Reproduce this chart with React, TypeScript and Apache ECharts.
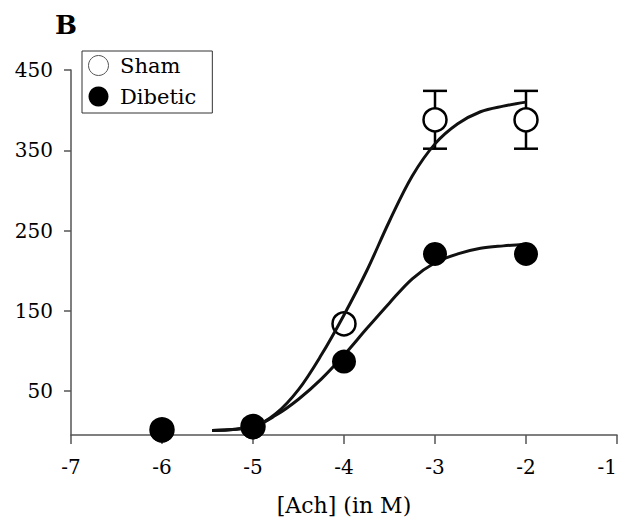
import React, { useEffect, useRef } from "react";
import * as echarts from "echarts";

const xTicks = [-7, -6, -5, -4, -3, -2, -1];
const yTickValues = [50, 150, 250, 350, 450];

const doses = [-6, -5, -4, -3, -2];
const shamMean = [2, 6, 134, 388, 388];
const shamErr = [0, 0, 0, 36, 36];
const dibMean = [1, 5, 87, 221, 221];

const curveX = [-5.45, -5.0, -4.75, -4.5, -4.25, -4.0, -3.75, -3.5, -3.25, -3.0, -2.75, -2.5, -2.25, -2.0];
const shamCurve = [1, 6, 22, 52, 95, 145, 200, 262, 318, 358, 383, 398, 405, 410];
const dibCurve = [1, 6, 20, 40, 65, 95, 128, 160, 190, 210, 221, 228, 231, 233];

const FONT = '"DejaVu Serif", "Liberation Serif", serif';

export default function App() {
  const ref = useRef<HTMLDivElement>(null);
  useEffect(() => {
    if (!ref.current) return;
    const chart = echarts.init(ref.current, null, { renderer: "svg" });
    const errData = doses
      .map((d, i) => [d, shamMean[i] - shamErr[i], shamMean[i] + shamErr[i], shamErr[i]])
      .filter((r) => r[3] > 0);
    chart.setOption({
      animation: false,
      backgroundColor: "#fff",
      title: {
        text: "B",
        left: 55,
        top: 12,
        padding: 0,
        textStyle: { fontFamily: FONT, fontSize: 26, fontWeight: "bold", color: "#000" },
      },
      legend: {
        left: 82,
        top: 51,
        orient: "vertical",
        padding: [4, 16, 6, 6],
        itemGap: 10,
        itemWidth: 21,
        itemHeight: 20,
        borderColor: "#333",
        borderWidth: 1,
        textStyle: { fontFamily: FONT, fontSize: 21, color: "#000", padding: [0, 0, 0, 6] },
        data: [
          { name: "Sham", icon: "circle", itemStyle: { color: "#fff", borderColor: "#555", borderWidth: 1 } },
          { name: "Dibetic", icon: "circle", itemStyle: { color: "#000", borderWidth: 0 } },
        ],
      },
      grid: { left: 71, right: 7, top: 70, bottom: 91, outerBoundsMode: "none", containLabel: false },
      xAxis: {
        type: "value",
        min: xTicks[0],
        max: xTicks[xTicks.length - 1],
        interval: 1,
        name: "[Ach] (in M)",
        nameLocation: "middle",
        nameGap: 59,
        nameTextStyle: { fontFamily: FONT, fontSize: 22, color: "#000" },
        axisLine: { onZero: false, lineStyle: { color: "#555", width: 1.5 } },
        axisTick: { show: true, length: 9, lineStyle: { color: "#555", width: 1.5 } },
        axisLabel: { fontFamily: FONT, fontSize: 20, color: "#000", margin: 22, alignMaxLabel: "right" },
        splitLine: { show: false },
      },
      yAxis: {
        type: "value",
        min: -4.5,
        max: 450,
        axisLine: { show: true, onZero: false, lineStyle: { color: "#555", width: 1.5 } },
        axisTick: { show: true, length: 7, customValues: yTickValues, lineStyle: { color: "#555", width: 1.5 } },
        axisLabel: { fontFamily: FONT, fontSize: 20, color: "#000", margin: 18, customValues: yTickValues },
        splitLine: { show: false },
      },
      series: [
        {
          name: "Sham error",
          type: "custom",
          z: 1,
          encode: { x: 0, y: [1, 2] },
          data: errData,
          renderItem: (params: any, api: any) => {
            const x = api.value(0);
            const lo = api.coord([x, api.value(1)]);
            const hi = api.coord([x, api.value(2)]);
            const hw = 12;
            const st = { stroke: "#000", lineWidth: 2.5 };
            return {
              type: "group",
              children: [
                { type: "line", shape: { x1: hi[0], y1: hi[1], x2: lo[0], y2: lo[1] }, style: st },
                { type: "line", shape: { x1: hi[0] - hw, y1: hi[1], x2: hi[0] + hw, y2: hi[1] }, style: st },
                { type: "line", shape: { x1: lo[0] - hw, y1: lo[1], x2: lo[0] + hw, y2: lo[1] }, style: st },
              ],
            };
          },
        },
        {
          name: "Sham",
          type: "scatter",
          z: 2,
          symbol: "circle",
          symbolSize: 23,
          itemStyle: { color: "#fff", borderColor: "#000", borderWidth: 2.5, opacity: 1 },
          data: doses.map((d, i) => [d, shamMean[i]]),
        },
        {
          name: "Sham fit",
          type: "line",
          z: 3,
          smooth: 0.35,
          showSymbol: false,
          symbol: "none",
          lineStyle: { color: "#111", width: 3 },
          data: curveX.map((x, i) => [x, shamCurve[i]]),
        },
        {
          name: "Dibetic fit",
          type: "line",
          z: 3,
          smooth: 0.35,
          showSymbol: false,
          symbol: "none",
          lineStyle: { color: "#111", width: 3 },
          data: curveX.map((x, i) => [x, dibCurve[i]]),
        },
        {
          name: "Dibetic",
          type: "scatter",
          z: 4,
          symbol: "circle",
          symbolSize: 24,
          itemStyle: { color: "#000", opacity: 1 },
          data: doses.map((d, i) => [d, dibMean[i]]),
        },
      ],
    });
    return () => chart.dispose();
  }, []);
  return <div ref={ref} style={{ position: "fixed", left: 0, top: 0, width: 624, height: 526 }} />;
}
